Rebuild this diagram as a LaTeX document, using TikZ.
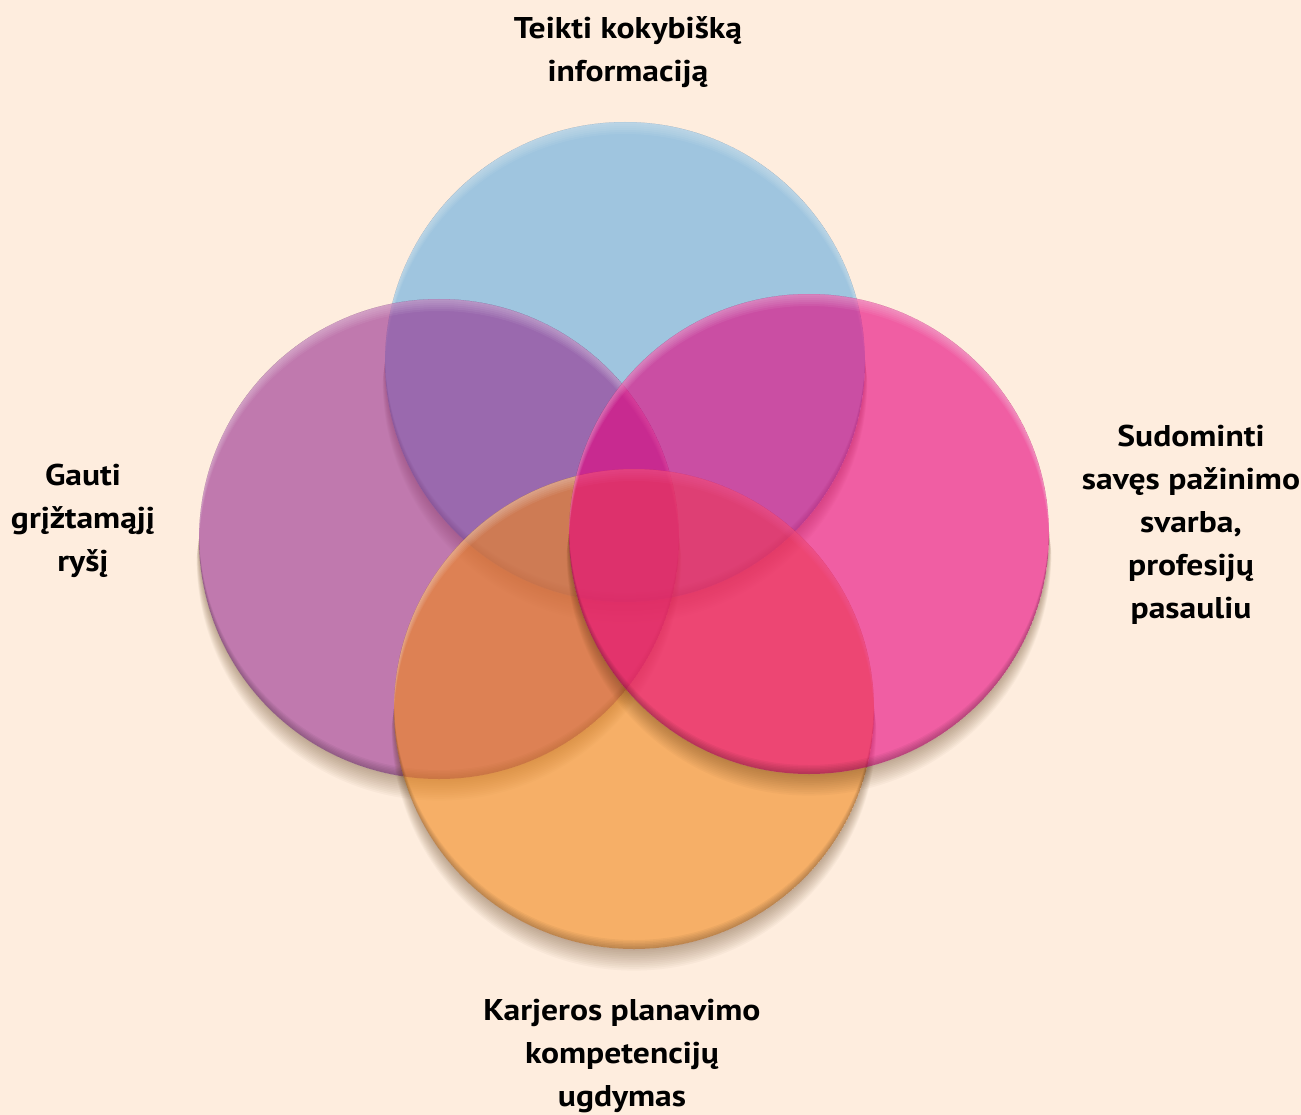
\documentclass[tikz,border=0pt]{standalone}
\usepackage{fontspec}
\newfontfamily\lblfont{PT Sans}[FakeStretch=1.12]
\definecolor{bgc}{RGB}{254,237,222}
\definecolor{cblue}{RGB}{159,197,223}
\definecolor{cpurple}{RGB}{151,45,142}
\definecolor{corange}{RGB}{241,135,25}
\definecolor{cpink}{RGB}{232,0,124}
\definecolor{shadowc}{RGB}{80,45,10}
\tikzset{
  disc/.style={circle, minimum size=480pt, inner sep=0pt, draw=none},
  shadowband/.style={shadowc, fill opacity=0.03},
  darkrim/.style={black, fill opacity=0.04, even odd rule},
  lightrim/.style={white, fill opacity=0.06, even odd rule},
  lbl/.style={font=\lblfont\bfseries\fontsize{30}{43}\selectfont, align=center, inner sep=0pt, text=black}
}
% soft shadow below a disc of radius 240 centred at #1
\newcommand\vennshadow[1]{%
  \foreach \i in {1,...,12}{%
    \fill[shadowband] ([xshift=-240pt]#1) arc[start angle=180, end angle=0, radius=240]
      -- ([xshift={240pt+0.2pt*\i}, yshift={-1.6pt*\i}]#1)
      arc[start angle=0, end angle=180, radius={240+0.2*\i}] -- cycle;}}
% light upper rim and dark lower rim inside a disc
\newcommand\vennrim[1]{%
  \begin{scope}
    \clip (#1) circle[radius=240];
    \foreach \i in {1,...,6}{\fill[lightrim] (#1) circle[radius=240] ([yshift={-2pt*\i}]#1) circle[radius=240];}
    \foreach \i in {1,...,6}{\fill[darkrim] (#1) circle[radius=240] ([yshift={1.5pt*\i}]#1) circle[radius=240];}
  \end{scope}}
\begin{document}
\begin{tikzpicture}[x=1pt,y=-1pt]
\fill[bgc] (0,0) rectangle (1301,1115);
\useasboundingbox (0,0) rectangle (1301,1115);
\coordinate (cb) at (625,362);
\coordinate (cp) at (439,539);
\coordinate (co) at (634,709);
\coordinate (ck) at (809,534);
\vennshadow{cb}
\node[disc, fill=cblue] (blue) at (cb) {};
\vennrim{cb}
\vennshadow{cp}
\node[disc, fill=cpurple, fill opacity=0.6] (purple) at (cp) {};
\vennrim{cp}
\vennshadow{co}
\node[disc, fill=corange, fill opacity=0.6] (orange) at (co) {};
\vennrim{co}
\vennshadow{ck}
\node[disc, fill=cpink, fill opacity=0.6] (pink) at (ck) {};
\vennrim{ck}
\node[lbl] (ttop) at (628,52) {Teikti kokybišką\\informaciją};
\node[lbl] (tleft) at (83,521) {Gauti\\grįžtamąjį\\ryšį};
\node[lbl] (tright) at (1191,525) {Sudominti\\savęs pažinimo\\svarba,\\profesijų\\pasauliu};
\node[lbl] (tbottom) at (622,1056) {Karjeros planavimo\\kompetencijų\\ugdymas};
\end{tikzpicture}
\end{document}
